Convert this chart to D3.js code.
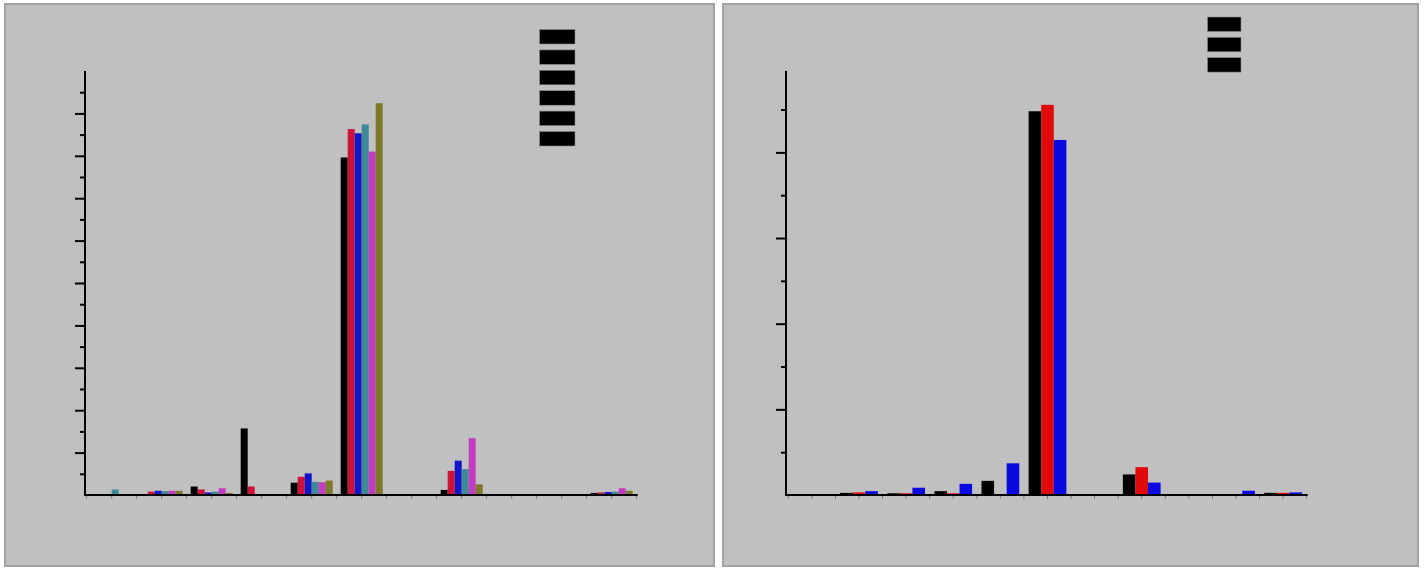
<!DOCTYPE html>
<html>
<head>
<meta charset="utf-8">
<script src="https://d3js.org/d3.v7.min.js"></script>
<style>
  body { margin: 0; background: #ffffff; }
  .xaxis .tick line, .xtick { stroke: #7a7a7a; }
</style>
</head>
<body>
<div id="chart"></div>
<script>
// categories (no labels are printed on the original)
var categories = ["1", "2", "3", "4", "5", "6", "7", "8", "9", "10", "11"];

// left chart: 6 series
var leftSeries = ["A", "B", "C", "D", "E", "F"];
var leftColors = ["#000000", "#cc1238", "#1414c8", "#3f8898", "#c23cc2", "#7c7a26"];
var leftA = [0, 0, 2.0, 15.7, 2.9, 79.6, 0, 1.2, 0, 0, 0.5];
var leftB = [0, 0.8, 1.3, 2.0, 4.3, 86.3, 0, 5.7, 0, 0, 0.6];
var leftC = [0, 1.0, 0.6, 0, 5.1, 85.3, 0, 8.1, 0, 0, 0.7];
var leftD = [1.3, 0.9, 0.8, 0, 3.1, 87.4, 0, 6.1, 0, 0, 0.8];
var leftE = [0, 1.0, 1.6, 0, 3.0, 81.0, 0, 13.4, 0, 0, 1.6];
var leftF = [0, 1.0, 0.5, 0, 3.4, 92.4, 0, 2.5, 0, 0, 1.0];
var leftValues = [leftA, leftB, leftC, leftD, leftE, leftF];
var leftMajor = [10, 20, 30, 40, 50, 60, 70, 80, 90];
var leftMinor = [5, 15, 25, 35, 45, 55, 65, 75, 85, 95];

// right chart: 3 series
var rightSeries = ["A", "B", "C"];
var rightColors = ["#000000", "#e00a0a", "#0a0ae0"];
var rightA = [0, 0.5, 0.4, 0.9, 3.3, 89.6, 0.2, 4.8, 0.2, 0, 0.5];
var rightB = [0, 0.6, 0.4, 0.4, 0, 91.1, 0.1, 6.5, 0, 0, 0.5];
var rightC = [0, 0.9, 1.7, 2.6, 7.4, 82.9, 0, 2.9, 0, 1.0, 0.6];
var rightValues = [rightA, rightB, rightC];
var rightMajor = [20, 40, 60, 80];
var rightMinor = [10, 30, 50, 70, 90];

var svg = d3.select("#chart")
  .append("svg")
    .attr("width", 1424)
    .attr("height", 571);

function drawPanel(p) {
  // panel background
  svg.append("rect")
    .attr("x", p.box[0])
    .attr("y", p.box[1])
    .attr("width", p.box[2])
    .attr("height", p.box[3])
    .attr("fill", "#c0c0c0")
    .attr("stroke", "#a2a2a2")
    .attr("stroke-width", 2);

  var g = svg.append("g");

  var y = d3.scaleLinear()
    .domain([0, p.yMax])
    .range([p.base, p.top]);

  var x = d3.scaleBand()
    .domain(categories)
    .range([p.left, p.right])
    .paddingInner(0);

  var xs = d3.scaleBand()
    .domain(d3.range(p.series.length))
    .range([p.pad, x.bandwidth() - p.pad]);

  // bars
  p.series.forEach(function (s, i) {
    g.selectAll(".bar" + i)
      .data(p.values[i])
      .enter()
      .append("rect")
      .attr("x", function (d, j) { return x(categories[j]) + xs(i); })
      .attr("width", xs.bandwidth())
      .attr("y", function (d) { return y(d); })
      .attr("height", function (d) { return y(0) - y(d); })
      .attr("fill", p.colors[i]);
  });

  // x axis: ticks at band centres plus band edges
  g.append("g")
    .attr("class", "xaxis")
    .attr("transform", "translate(0," + p.base + ")")
    .call(d3.axisBottom(x).tickSize(4).tickFormat(""))
    .select(".domain").remove();

  var edges = categories.map(function (c) { return x(c); }).concat([p.right]);
  g.selectAll(".xtick")
    .data(edges)
    .enter()
    .append("line")
    .attr("class", "xtick")
    .attr("x1", function (d) { return d; })
    .attr("x2", function (d) { return d; })
    .attr("y1", p.base)
    .attr("y2", p.base + 4);

  g.append("line")
    .attr("x1", p.axisX)
    .attr("x2", p.right + 1)
    .attr("y1", p.base)
    .attr("y2", p.base)
    .attr("stroke", "black")
    .attr("stroke-width", 2);

  // y axis
  g.append("g")
    .attr("transform", "translate(" + p.axisX + ",0)")
    .call(d3.axisLeft(y).tickValues(p.major).tickSize(10).tickFormat(""))
    .call(function (a) { a.select(".domain").remove(); })
    .selectAll("line").attr("stroke-width", 2);

  g.append("g")
    .attr("transform", "translate(" + p.axisX + ",0)")
    .call(d3.axisLeft(y).tickValues(p.minor).tickSize(5).tickFormat(""))
    .call(function (a) { a.select(".domain").remove(); })
    .selectAll("line").attr("stroke-width", 2);

  g.append("line")
    .attr("x1", p.axisX)
    .attr("x2", p.axisX)
    .attr("y1", y(0) + 1)
    .attr("y2", y(p.yMax))
    .attr("stroke", "black")
    .attr("stroke-width", 2);

  // legend boxes
  g.selectAll(".legend")
    .data(p.series)
    .enter()
    .append("rect")
    .attr("x", p.legend[0])
    .attr("y", function (d, i) { return p.legend[1] + i * p.legend[2]; })
    .attr("width", p.legend[3])
    .attr("height", 14.5)
    .attr("fill", "#000000")
    .attr("stroke", "#8a8a8a")
    .attr("stroke-width", 0.6);
}

drawPanel({
  box: [5, 4, 709, 562],
  series: leftSeries, values: leftValues, colors: leftColors,
  yMax: 100, major: leftMajor, minor: leftMinor,
  axisX: 85, left: 86.7, right: 636.7, base: 495, top: 71, pad: 4,
  legend: [539.5, 29.5, 20.4, 35.5]
});

drawPanel({
  box: [723, 4, 695, 562],
  series: rightSeries, values: rightValues, colors: rightColors,
  yMax: 99, major: rightMajor, minor: rightMinor,
  axisX: 786, left: 788.3, right: 1306.7, base: 495, top: 71, pad: 4.7,
  legend: [1207.5, 17, 20.3, 33.5]
});
</script>
</body>
</html>
